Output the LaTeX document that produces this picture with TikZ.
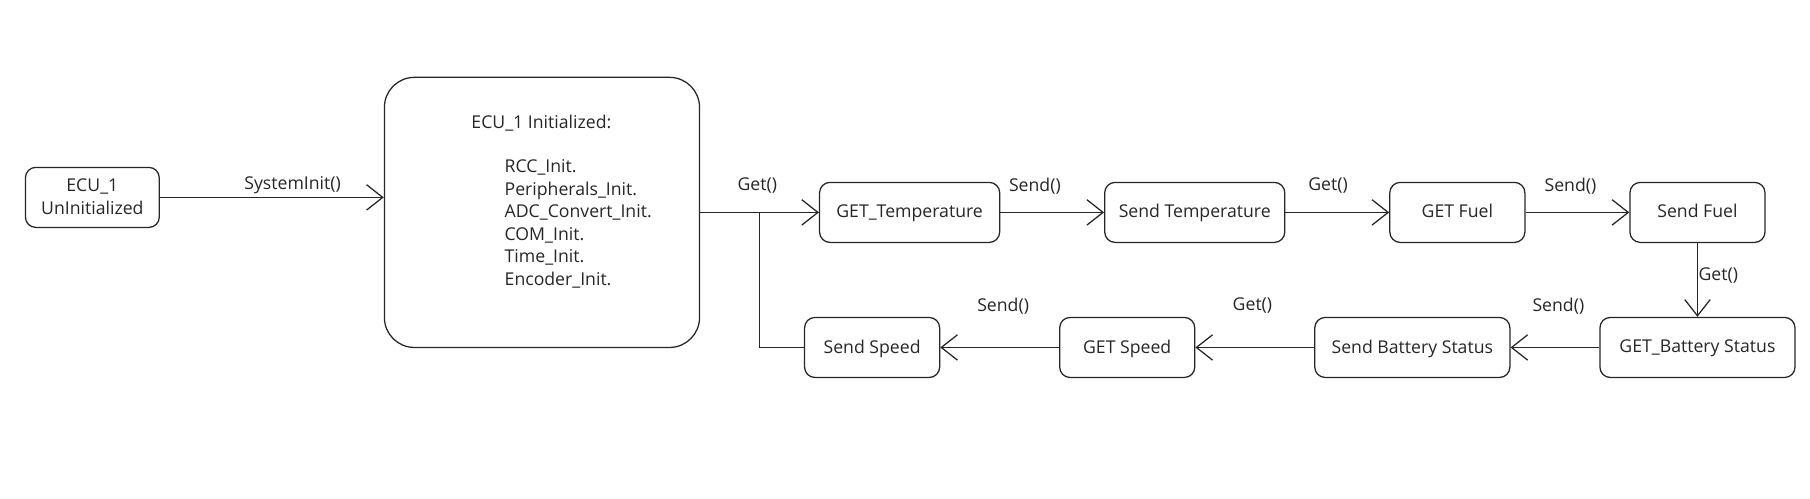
\documentclass[tikz,border=0pt]{standalone}
\usepackage{fontspec}
\setmainfont{Open Sans}
\usetikzlibrary{arrows.meta}
\begin{document}
\begin{tikzpicture}[x=1pt,y=-1pt,
  state/.style={draw=black!85, line width=1.1pt, rounded corners=9pt, minimum height=52pt, align=center, inner sep=0pt, font=\fontsize{15.3}{19.8}\selectfont, text=black!85, text depth=2pt},
  arr/.style={draw=black!85, line width=1.1pt, -{Straight Barb[length=14pt,width=22pt,line width=1.1pt]}},
  plain/.style={draw=black!85, line width=1.1pt},
  lbl/.style={font=\fontsize{15.3}{19.6}\selectfont, inner sep=0pt, text=black!85}]
\useasboundingbox (0,0) rectangle (1568,432);
% nodes
\node[state, minimum width=116pt] (ecu) at (80,171) {ECU\_1\\UnInitialized};
\node[state, minimum width=273pt, minimum height=234pt, rounded corners=26pt] (init) at (469.5,184) {};
\node[lbl] (title) at (469,107) {ECU\_1 Initialized:};
\node[lbl, anchor=north west, align=left] (list) at (437,138) {RCC\_Init.\\Peripherals\_Init.\\ADC\_Convert\_Init.\\COM\_Init.\\Time\_Init.\\Encoder\_Init.};
\node[state, minimum width=156pt] (gt) at (788,184) {GET\_Temperature};
\node[state, minimum width=156pt] (st) at (1035,184) {Send Temperature};
\node[state, minimum width=117pt] (gf) at (1262.5,184) {GET Fuel};
\node[state, minimum width=117pt] (sf) at (1470.5,184) {Send Fuel};
\node[state, minimum width=169pt] (gb) at (1470.5,301) {GET\_Battery Status};
\node[state, minimum width=169pt] (sb) at (1223.5,301) {Send Battery Status};
\node[state, minimum width=117pt] (gs) at (976.5,301) {GET Speed};
\node[state, minimum width=117pt] (ss) at (755.5,301) {Send Speed};
\coordinate (j) at (658,184);
% connectors
\draw[arr] (ecu.east) -- node[lbl, midway, xshift=18pt, yshift=11pt] (l1) {SystemInit()} (ecu.east -| init.west);
\draw[arr] (init.east) -- node[lbl, midway, xshift=-2pt, yshift=23pt] (l2) {Get()} (gt.west);
\draw[arr] (gt.east) -- node[lbl, midway, xshift=-15pt, yshift=23pt] (l3) {Send()} (st.west);
\draw[arr] (st.east) -- node[lbl, midway, xshift=-8pt, yshift=23pt] (l4) {Get()} (gf.west);
\draw[arr] (gf.east) -- node[lbl, midway, xshift=-6pt, yshift=23pt] (l5) {Send()} (sf.west);
\draw[arr] (sf.south) -- node[lbl, midway, xshift=18pt, yshift=4pt] (l6) {Get()} (gb.north);
\draw[arr] (gb.west) -- node[lbl, midway, xshift=3pt, yshift=36pt] (l7) {Send()} (sb.east);
\draw[arr] (sb.west) -- node[lbl, midway, xshift=-2pt, yshift=36pt] (l8) {Get()} (gs.east);
\draw[arr] (gs.west) -- node[lbl, midway, xshift=3pt, yshift=36pt] (l9) {Send()} (ss.east);
\draw[plain] (ss.west) -| (j);
\end{tikzpicture}
\end{document}
